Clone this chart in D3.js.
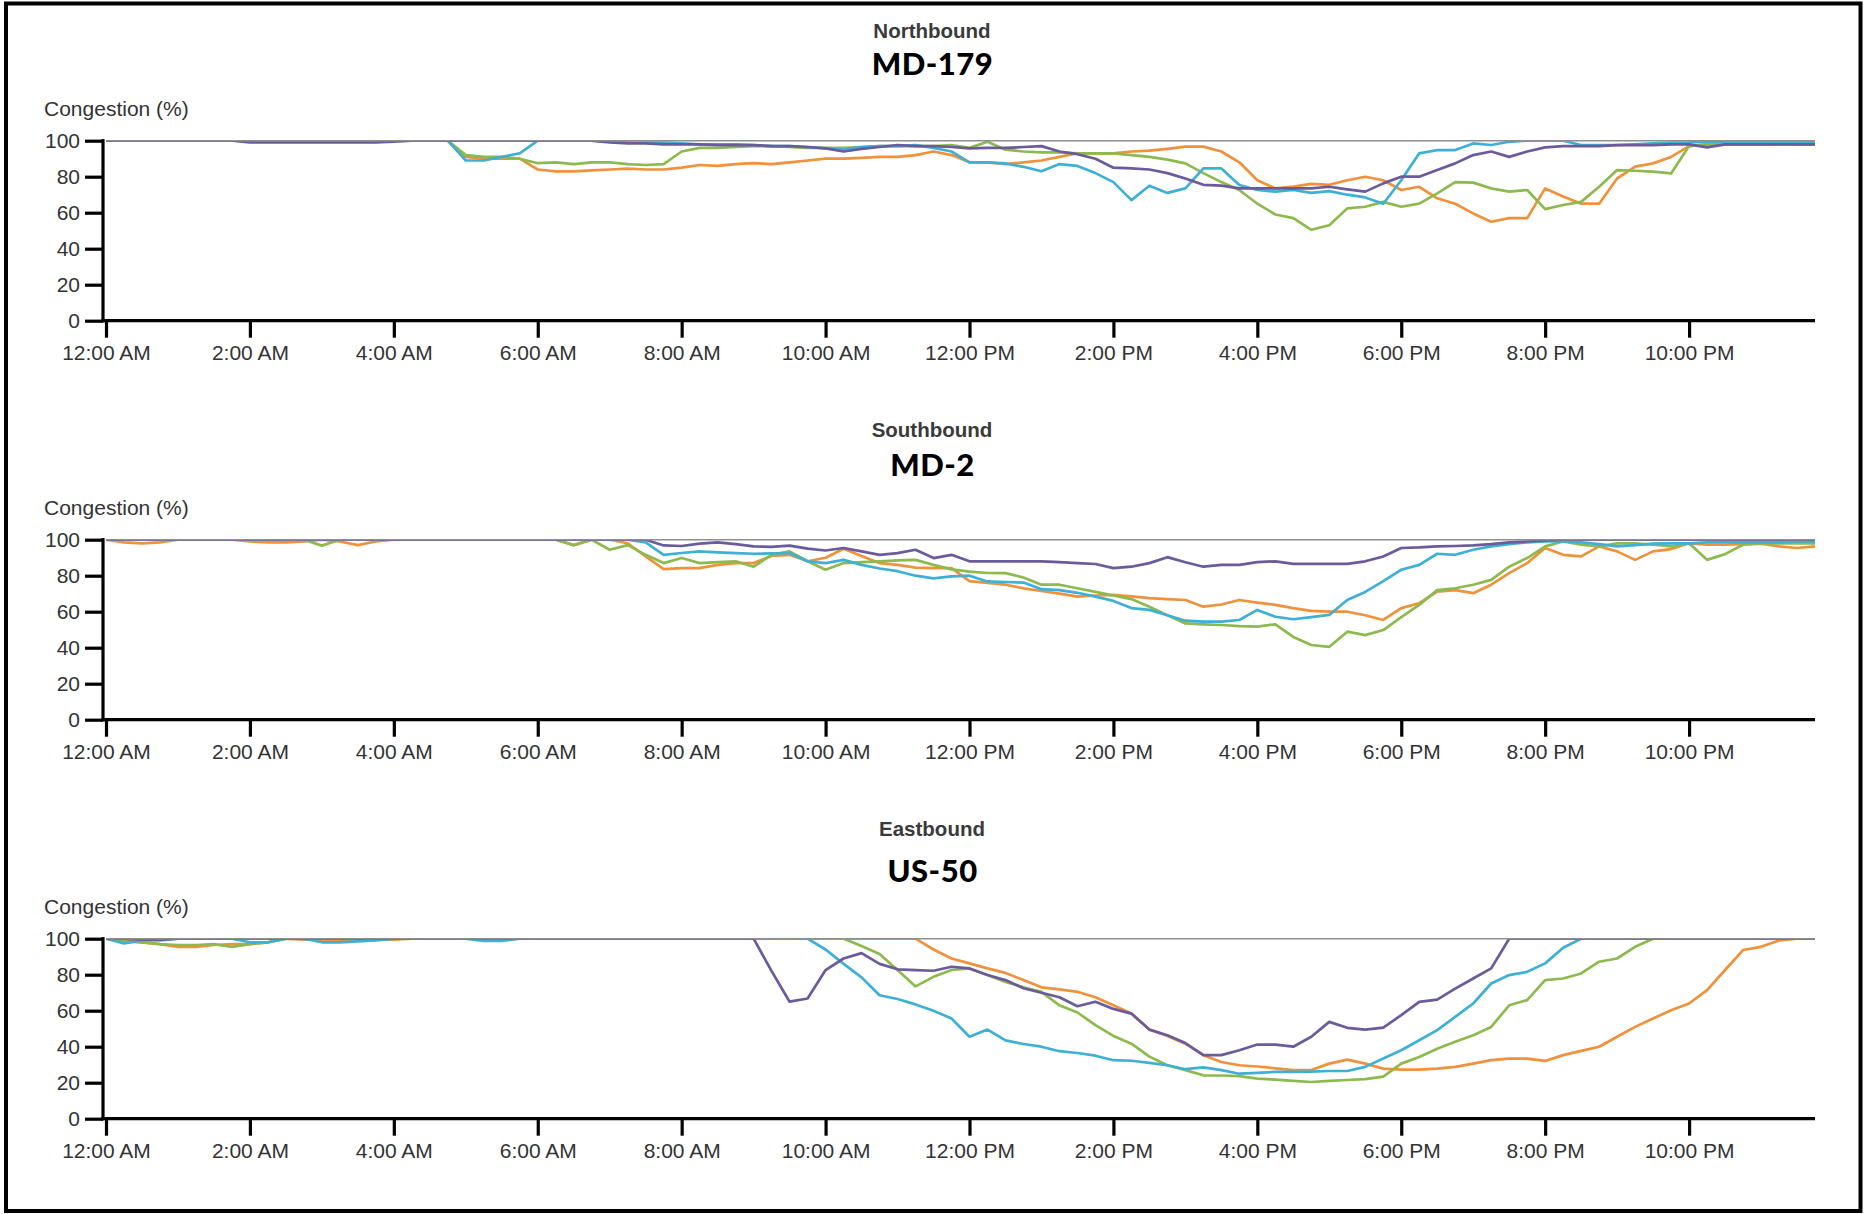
<!DOCTYPE html>
<html>
<head>
<meta charset="utf-8">
<script src="https://cdn.jsdelivr.net/npm/d3@7"></script>
<style>
  html, body { margin: 0; padding: 0; background: #fff; }
  svg { display: block; }
</style>
</head>
<body>
<div id="chart"></div>
<script>
// ---------------- DATA ----------------
const directions = ["Northbound", "Southbound", "Eastbound"];
const roads = ["MD-179", "MD-2", "US-50"];
const seriesNames = ["orange", "green", "cyan", "purple"];
const seriesColors = ["#f0913c", "#8dba4e", "#3eb0d6", "#6b5b9c"];
const yTickValues = [0, 20, 40, 60, 80, 100];
const yLabel = "Congestion (%)";
const intervalMinutes = 15; // readings every 15 minutes, 12:00 AM .. 11:45 PM

// MD-179 Northbound
const md179Orange = [100,100,100,100,100,100,100,100,100,100,100,100,100,100,100,100,100,100,100,100,
  91,90,90,90, 84,83,83,83.5,84,84.5,84,84, 85,86.5,86,87,87.5,87,88,89, 90,90,90.5,91,91,92,94,92,
  88,88,87,88,89,91,93,93, 93,94,94.5,95.5,96.7,96.7,94,88, 78,73.5,74.5,76,75.5,78,80,78,
  72.6,74.4,68,65,59.6,55,57,57, 73.5,69,65,65,79,85.6,87.4,91, 97,98,98,98,98,98.5,98,98];
const md179Green = [100,100,100,100,100,100,100,100,100,100,100,100,100,100,100,100,100,100,100,100,
  92,91,91,90, 87.5,88,87,88,88,87,86.5,87, 94,96,96,96.5,97,97,96.5,96, 96,96,96.5,97,97,97,97,97.5,
  96,99.4,95,94,93.5,93.5,93,93, 93,92,91,89.5,87.4,82,77,72.6, 65,59,57,50.5,53,62.4,63.3,66,
  63.3,65,70.7,77,76.7,73.5,71.7,72.6, 62,64.3,66,74.4,83.7,83.3,82.8,81.8, 97,98,98,98,98,98,98,98];
const md179Cyan = [100,100,100,100,100,100,100,100,100,100,100,100,100,100,100,100,100,100,100,100,
  89,89,91,93, 100,100,100,100,99.5,99,99,99, 98.5,98,98,98,97.5,97,97,96.5, 95.7,95,96.5,97,97,97.5,96,94,
  88,88,87.4,85.5,83,87,86,82, 77,67,75,71,73.5,84.6,84.6,75.4, 72.6,71.7,72.6,71,72,70,68.5,65,
  78,93,94.8,94.8,98.5,97.6,99.4,100, 100,100,97.6,97.5,97.6,98,98.5,99, 99,99.5,99.5,99.5,99.5,99.5,99.5,99];
const md179Purple = [100,100,100,100,100,100,100,100, 99,99,99,99,99,99,99,99, 99.5,100,100,100,
  100,100,100,100, 100,100,100,100,99,98.5,98.5,98, 98,98,97.5,97.5,97.5,97,97,96.5, 95.7,94,95.5,96.5,97.6,97,97,96.5,
  95.7,96,96,96.5,97,94,92.5,90, 85,84.6,84,82,79,75.5,75,73.5, 73.5,73.5,73.5,73.5,74.4,73,71.7,76.3,
  80,80,83.7,87.4,92,94,91,94, 96.3,97,97,97,97.5,97.5,97.5,98, 98,96.3,98,98,98,98,98,98];

// MD-2 Southbound
const md2Orange = [100,98.5,98,98.5,100,100,100,100, 99,98.5,98.5,99,100,99,97,99, 100,100,100,100,100,100,100,100,
  100,100,97,100,100,98,90.7,83.6, 84.2,84.2,86,87,87,91,91.6,88, 90,95,91,87,86,84.5,84.2,84.2,
  77,76,75,73,71.5,70,68.4,69, 69.3,68.5,67.5,67,66.5,62.8,64,66.5, 65,63.8,62,60.5,60,60,58,55.4,
  62,64.7,71.2,72,70.3,75,81.4,87, 95.4,91.6,90.7,96.3,93.5,88.8,93.5,94.8, 98,97.2,97.2,97.5,97.8,96.3,95.4,96.3];
const md2Green = [100,100,100,100,100,100,100,100, 100,100,100,100,96.7,100,100,100, 100,100,100,100,100,100,100,100,
  100,100,97,100,94.4,97,91.6,87, 89.8,87,87.5,88,85,91.6,93.5,88, 83.3,87,87.5,88,88.5,88.8,86,83.5,
  82.3,81.5,81.4,79,75,75,73,71, 69,67,62.8,58,53.5,53,52.6,52, 51.7,53,46,41.5,40.5,48.9,47,49.8,
  57,63.8,72,73,75,77.7,85,89.8, 96.3,99,97.2,96.3,98,98,97.2,96.3, 98,88.8,92,97.2,98,98,98,98];
const md2Cyan = [100,100,100,100,100,100,100,100, 100,100,100,100,100,100,100,100, 100,100,100,100,100,100,100,100,
  100,100,100,100,100,100,98.5,91.6, 92.6,93.5,93,92.5,92.2,92.4,92.6,88, 87,88.8,86,84,82.5,80,78.5,79.6,
  80,76.8,76.5,76.2,72.5,72,70.5,68.4, 66,62,61,58,55,54.5,54.5,55.4, 61,57.2,55.8,57,58.2,66.5,71,77,
  83.3,86,92.2,91.6,94.4,96.3,97.5,98.5, 99,99,98.5,97.5,96.3,97,97.8,98, 98,98.5,98.5,98.5,98.5,98.5,99,99];
const md2Purple = [100,100,100,100,100,100,100,100, 100,100,100,100,100,100,100,100, 100,100,100,100,100,100,100,100,
  100,100,100,100,100,100,100,96.8, 96.5,97.8,98.5,97.5,96.3,96,96.7,95, 94,95.4,93.5,91.6,92.5,94.4,89.8,91.6,
  88,88,88,88,88,87.5,87,86.5, 84.2,85,87,90.3,87.5,85,86,86, 87.5,88,86.6,86.6,86.6,86.6,88,90.7,
  95.4,95.7,96.3,96.5,96.8,97.5,98.5,99, 99.6,100,100,100,100,100,100,100, 100,100,100,100,100,100,100,100];

// US-50 Eastbound
const us50Orange = [100,99,98,97,95.5,95.5,96.5,97, 97,98,100,99.5,99.5,99.5,99.5,99.5, 99.5,100,100,100,100,100,100,100,
  100,100,100,100,100,100,100,100, 100,100,100,100,100,100,100,100, 100,100,100,100,100,100,94,89,
  86.3,83.5,81,77,73,71.8,70.5,67.5, 63,58.4,49.5,46,41.7,35.3,31.5,29.7, 29,28,27,27,30.6,32.8,30.6,27.8,
  27.3,27.3,27.8,28.8,30.6,32.5,33.4,33.4, 32.1,35.3,37.7,40,45.5,51,55.7,60.3, 64,71.4,82.6,93.7,95.5,99,100,100];
const us50Green = [100,98.5,98,97,96.5,96.5,97,95.5, 97,98,100,100,100,100,100,100, 100,100,100,100,100,100,100,100,
  100,100,100,100,100,100,100,100, 100,100,100,100,100,100,100,100, 100,100,96,91.5,82.6,73.5,78.8,82.6,
  83.5,79.8,76,73,70.5,63,59,52, 46,41.7,34.5,29.7,27,24.1,24,23.7, 22.3,21.7,21,20.4,21,21.5,22,23.4,
  30.6,34.3,38.9,42.7,46.4,51,63,65.9, 77,77.9,80.7,87.2,89,95.5,100,100, 100,100,100,100,100,100,100,100];
const us50Cyan = [100,97.4,99,99,100,100,100,100, 98,98,100,100,98,98,98.5,99, 100,100,100,100,100,98.8,98.8,100,
  100,100,100,100,100,100,100,100, 100,100,100,100,100,100,100,100, 94,86,78.5,68.6,66.5,63.5,60,55.7,
  45.5,49.5,43.5,41.5,40,37.5,36.5,35, 32.5,32.2,31,29.7,27.5,28.5,27,25, 25.5,26,26,26.2,26.5,26.5,28.8,33.4,
  38,43.6,49.2,56.6,64,75.1,79.8,81.6, 86.3,95,100,100,100,100,100,100, 100,100,100,100,100,100,100,100];
const us50Purple = [100,100,99.5,99.5,100,100,100,100, 100,100,100,100,100,100,100,100, 100,100,100,100,100,100,100,100,
  100,100,100,100,100,100,100,100, 100,100,100,100,100,82,65,66.8, 82.6,89,92,86,83,82.5,82.2,84.4,
  83.5,79.8,77,72.5,70,67.5,62.5,65, 61,58.4,49.5,46.4,42,35.3,35.3,38, 41.2,41.2,40,45.5,53.8,50.5,49.5,50.6,
  57.5,64.9,66.2,72.3,77.9,83.5,100,100, 100,100,100,100,100,100,100,100, 100,100,100,100,100,100,100,100];

const panelSeries = [
  [md179Orange, md179Green, md179Cyan, md179Purple],
  [md2Orange, md2Green, md2Cyan, md2Purple],
  [us50Orange, us50Green, us50Cyan, us50Purple]
];

// ---------------- LAYOUT ----------------
const W = 1865, H = 1214;
const plotLeft = 106, plotRight = 1815, yAxisX = 103;
const firstTop = 140.7, panelStep = 399, plotH = 180;
const bigTitleShift = [0, 2, 9];
const tickFont = "'Liberation Sans', Arial, sans-serif";

const svg = d3.select("#chart").append("svg")
  .attr("width", W).attr("height", H)
  .attr("viewBox", `0 0 ${W} ${H}`);

svg.append("rect").attr("width", W).attr("height", H).attr("fill", "#fff");

const day0 = new Date(2020, 0, 1, 0, 0);
const nPts = panelSeries[0][0].length;
const times = d3.range(nPts).map(i => d3.timeMinute.offset(day0, i * intervalMinutes));

const x = d3.scaleTime()
  .domain([times[0], times[nPts - 1]])
  .range([plotLeft, plotRight]);

const fmt = d3.timeFormat("%-I:%M %p");

svg.append("defs").selectAll("clipPath")
  .data(d3.range(3)).join("clipPath")
  .attr("id", k => "clip" + k)
  .append("rect")
  .attr("x", plotLeft).attr("width", plotRight - plotLeft + 2)
  .attr("y", k => firstTop + k * panelStep)
  .attr("height", plotH);

for (let k = 0; k < 3; k++) {
  const top = firstTop + k * panelStep;
  const bottom = top + plotH;
  const y = d3.scaleLinear().domain([0, 100]).range([bottom, top]);
  const g = svg.append("g");

  // titles
  g.append("text")
    .attr("x", W / 2 - 0.5).attr("y", top - 102.7)
    .attr("text-anchor", "middle")
    .style("font-family", tickFont).style("font-weight", "bold")
    .style("font-size", "20.5px").attr("fill", "#3a3a3a")
    .text(directions[k]);
  g.append("text")
    .attr("x", W / 2).attr("y", top - 65.7 + bigTitleShift[k])
    .attr("text-anchor", "middle")
    .style("font-family", "Lato, 'DejaVu Sans', sans-serif").style("font-weight", "900")
    .style("font-size", "31px").attr("fill", "#000")
    .style("letter-spacing", "0.5px")
    .text(roads[k]);

  // y label
  g.append("text")
    .attr("x", 44).attr("y", top - 24.5)
    .style("font-family", tickFont).style("font-size", "21px")
    .attr("fill", "#333")
    .text(yLabel);

  // lines
  const line = d3.line()
    .x((d, i) => x(times[i]))
    .y(d => y(d));
  const lg = g.append("g").attr("clip-path", `url(#clip${k})`);
  panelSeries[k].forEach((vals, s) => {
    lg.append("path")
      .datum(vals)
      .attr("d", line)
      .attr("fill", "none")
      .attr("stroke", seriesColors[s])
      .attr("stroke-width", 2.7)
      .attr("stroke-linejoin", "round")
      .attr("class", "series-" + seriesNames[s]);
  });

  // reference line at 100
  g.append("line")
    .attr("x1", plotLeft).attr("x2", plotRight)
    .attr("y1", y(100)).attr("y2", y(100))
    .attr("stroke", "#8f8f8f").attr("stroke-width", 1.4);

  // y axis
  const yAxis = d3.axisLeft(y).tickValues(yTickValues)
    .tickSize(18).tickSizeOuter(0).tickPadding(5);
  const ya = g.append("g").attr("transform", `translate(${yAxisX},0)`).call(yAxis);
  ya.select(".domain").remove();
  ya.selectAll(".tick line").attr("stroke", "#000").attr("stroke-width", 3.2);
  ya.selectAll(".tick text")
    .style("font-family", tickFont).style("font-size", "21px").attr("fill", "#333");

  // x axis
  const xAxis = d3.axisBottom(x).ticks(d3.timeHour.every(2)).tickFormat(fmt)
    .tickSize(17).tickSizeOuter(0).tickPadding(7.5);
  const xa = g.append("g").attr("transform", `translate(0,${bottom})`).call(xAxis);
  xa.select(".domain").remove();
  xa.selectAll(".tick line").attr("stroke", "#000").attr("stroke-width", 3.2);
  xa.selectAll(".tick text")
    .style("font-family", tickFont).style("font-size", "21px").attr("fill", "#333");

  // axis domain lines
  g.append("line")
    .attr("x1", yAxisX).attr("x2", yAxisX)
    .attr("y1", top - 1.6).attr("y2", bottom + 1.6)
    .attr("stroke", "#000").attr("stroke-width", 3.2);
  g.append("line")
    .attr("x1", yAxisX - 1.6).attr("x2", plotRight)
    .attr("y1", bottom).attr("y2", bottom)
    .attr("stroke", "#000").attr("stroke-width", 3.2);
}

// outer frame
svg.append("rect")
  .attr("x", 6).attr("y", 3.5)
  .attr("width", 1854.5).attr("height", 1207.5)
  .attr("fill", "none").attr("stroke", "#000").attr("stroke-width", 4);
</script>
</body>
</html>
